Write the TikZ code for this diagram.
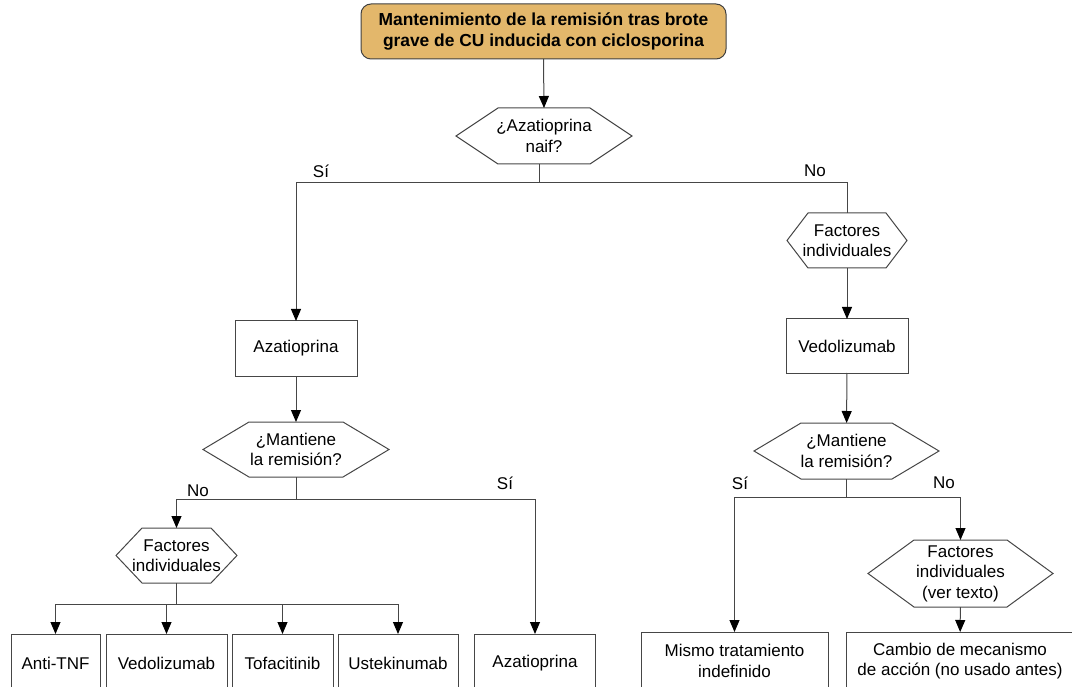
\documentclass[tikz,border=0pt]{standalone}
\usepackage{fontspec}
\setmainfont{Liberation Sans}
\usetikzlibrary{arrows.meta}

\definecolor{cugold}{RGB}{227,183,107}
\definecolor{linegray}{RGB}{70,70,70}
\tikzstyle{every picture}+=[font=\fontsize{17}{20.5}\selectfont]
\tikzstyle{caja}=[draw=linegray, line width=1pt, align=center, inner sep=2pt, outer sep=0pt]
\tikzstyle{hexa}=[align=center, inner sep=0pt, outer sep=0pt]
\tikzstyle{linea}=[draw=linegray, line width=1pt]
\tikzstyle{flecha}=[linea, -{Triangle[width=10pt,length=12pt,color=black]}]

\begin{document}
\begin{tikzpicture}[x=1pt, y=-1pt]
\useasboundingbox (0,0) rectangle (1072,687);
\clip (0,0) rectangle (1072,687);

%% Inicio
\node[caja, draw=black!75, fill=cugold, rounded corners=10pt, minimum width=365pt, minimum height=55pt,
  font=\fontsize{17.4}{20.5}\selectfont\bfseries] (inicio) at (543.5,31.5)
  {Mantenimiento de la remisión tras brote\\grave de CU inducida con ciclosporina};

%% Preguntas y factores
\node[hexa, minimum width=176pt, minimum height=56pt] (aza) at (544,136) {¿Azatioprina\\naif?};
\node[hexa, minimum width=186pt, minimum height=55pt] (mant1) at (296,449.5) {¿Mantiene\\la remisión?};
\node[hexa, minimum width=121pt, minimum height=55pt] (fact1) at (176.5,555.5) {Factores\\individuales};
\node[hexa, minimum width=120pt, minimum height=55pt] (fact2) at (847,240.5) {Factores\\individuales};
\node[hexa, minimum width=185pt, minimum height=56pt] (mant2) at (846.5,451) {¿Mantiene\\la remisión?};
\node[hexa, minimum width=185pt, minimum height=67pt] (fact3) at (960.5,573.5) {Factores\\individuales\\(ver texto)};

\foreach \n/\p in {aza/42, mant1/46, fact1/26, fact2/21, mant2/47, fact3/46}
  \draw[linea] (\n.west) -- ([xshift=\p pt]\n.north west) -- ([xshift=-\p pt]\n.north east)
    -- (\n.east) -- ([xshift=-\p pt]\n.south east) -- ([xshift=\p pt]\n.south west) -- cycle;

%% Tratamientos
\node[caja, minimum width=122pt, minimum height=55pt] (azat) at (296,348.5) {Azatioprina};
\node[caja, minimum width=122pt, minimum height=54pt] (vedo) at (847,346) {Vedolizumab};

\node[caja, minimum width=89pt, minimum height=58pt] (antitnf) at (55.5,663) {Anti-TNF};
\node[caja, minimum width=121pt, minimum height=58pt] (vedo2) at (166.5,663) {Vedolizumab};
\node[caja, minimum width=101pt, minimum height=58pt] (tofa) at (282.5,663) {Tofacitinib};
\node[caja, minimum width=120pt, minimum height=58pt] (uste) at (398,663) {Ustekinumab};
\node[caja, minimum width=121pt, minimum height=58pt] (azat2) at (535,663) {Azatioprina};
\node[caja, minimum width=187pt, minimum height=58pt] (mismo) at (734.5,661) {Mismo tratamiento\\indefinido};
\node[caja, minimum width=228pt, minimum height=58pt] (cambio) at (960,661) {Cambio de mecanismo\\de acción (no usado antes)};

%% Conectores
\coordinate (j1) at (539,183);
\coordinate (j2) at (296,499);
\coordinate (j3) at (176.5,604);
\coordinate (j4) at (846.5,497);

\draw[flecha] (inicio.south) -- (aza.north);
\draw[linea] (aza.south -| j1) -- (j1);
\draw[flecha] (j1) -| (azat.north);
\draw[linea] (j1) -| (fact2.north);
\draw[flecha] (fact2) -- (vedo);
\draw[flecha] (vedo) -- (mant2);
\draw[flecha] (azat) -- (mant1);

\draw[linea] (mant1) -- (j2);
\draw[flecha] (j2) -| (fact1.north);
\draw[flecha] (j2) -| (azat2.north);
\draw[linea] (fact1) -- (j3);
\foreach \b in {antitnf, vedo2, tofa, uste}
  \draw[flecha] (j3) -| (\b.north);

\draw[linea] (mant2) -- (j4);
\draw[flecha] (j4) -| (mismo.north);
\draw[flecha] (j4) -| (fact3.north);
\draw[flecha] (fact3) -- (cambio);

%% Etiquetas
\node (si1) at (321,171) {Sí};
\node (no1) at (815,171) {No};
\node (no2) at (198,491) {No};
\node (si2) at (505,483) {Sí};
\node (si3) at (740,483) {Sí};
\node (no3) at (944,483) {No};

\end{tikzpicture}
\end{document}
